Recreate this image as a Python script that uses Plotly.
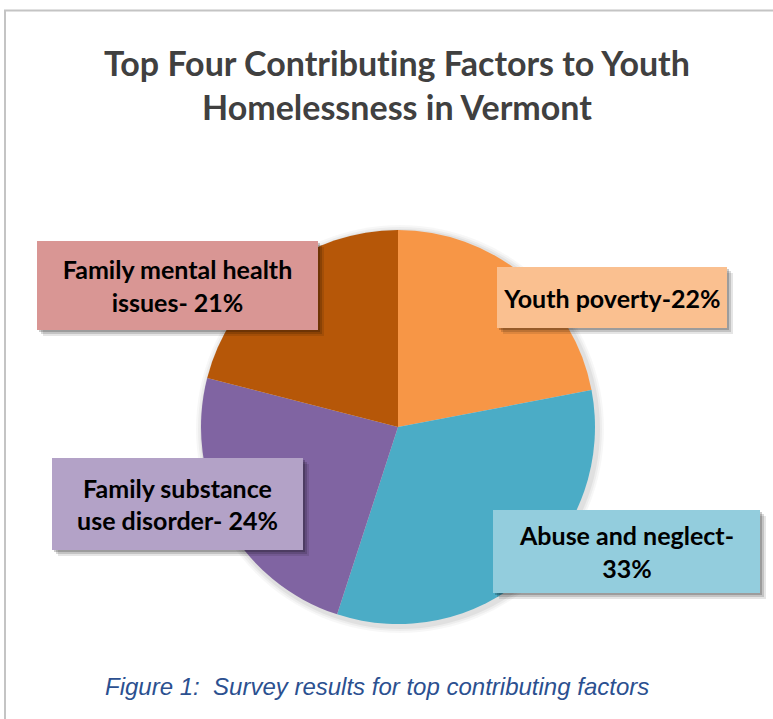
import plotly.graph_objects as go

W, H = 773, 719

categories = ["Youth poverty", "Abuse and neglect", "Family substance use disorder", "Family mental health issues"]
values = [22, 33, 24, 21]
slice_colors = ["#F79646", "#4BACC6", "#8064A2", "#B65708"]
box_colors = ["#FAC090", "#93CDDD", "#B3A2C7", "#D99694"]
box_texts = ["Youth poverty-22%", "Abuse and neglect-<br>33%",
             "Family substance<br>use disorder- 24%", "Family mental health<br>issues- 21%"]
# box geometry in pixels: (x0, y0, x1, y1) from top-left
boxes = [(497, 267, 727, 328), (493, 510, 760, 593), (52, 458, 303, 550), (37, 241, 318, 330)]

cx, cy, r = 398, 427, 197

def px(x):
    return x / W

def py(y):
    return 1 - y / H

fig = go.Figure()
fig.add_trace(go.Pie(
    labels=categories, values=values, sort=False, direction="clockwise", rotation=0,
    marker=dict(colors=slice_colors, line=dict(width=0)),
    textinfo="none", hoverinfo="label+percent", showlegend=False,
    domain=dict(x=[px(cx - r), px(cx + r)], y=[py(cy + r), py(cy - r)]),
))

shapes = []
# soft shadow around pie
for d, a in [(7, 0.03), (5, 0.04), (3, 0.05)]:
    shapes.append(dict(type="circle", xref="paper", yref="paper", layer="below",
                       x0=px(cx - r - d + 2), x1=px(cx + r + d + 2),
                       y0=py(cy + r + d + 2), y1=py(cy - r - d + 2),
                       fillcolor=f"rgba(0,0,0,{a})", line=dict(width=0)))
# frame
shapes.append(dict(type="rect", xref="paper", yref="paper", layer="below",
                   x0=px(5), x1=px(W + 10), y0=py(H + 10), y1=py(10.5),
                   line=dict(color="#c4c4c4", width=2), fillcolor="rgba(0,0,0,0)"))

annotations = []
for (x0, y0, x1, y1), col, txt in zip(boxes, box_colors, box_texts):
    # drop shadow
    for d, a in [(6, 0.10), (4, 0.15), (2, 0.2)]:
        shapes.append(dict(type="rect", xref="paper", yref="paper", layer="above",
                           x0=px(x0 + d), x1=px(x1 + d), y0=py(y1 + d), y1=py(y0 + d),
                           fillcolor=f"rgba(0,0,0,{a})", line=dict(width=0)))
    annotations.append(dict(
        xref="paper", yref="paper", x=px((x0 + x1) / 2), y=py((y0 + y1) / 2),
        xanchor="center", yanchor="middle", showarrow=False,
        width=x1 - x0, height=y1 - y0, bgcolor=col, borderpad=0, borderwidth=0,
        text=f"<b>{txt}</b>", align="center",
        font=dict(family="Lato", size=25, color="#000000"),
    ))

annotations.append(dict(
    xref="paper", yref="paper", x=px(397), y=py(84), xanchor="center", yanchor="middle",
    showarrow=False, align="center",
    text="<b>Top Four Contribut\u200cing Factors to Youth<br>Homelessness in Vermont</b>",
    font=dict(family="Lato", size=34, color="#404040"),
))
annotations.append(dict(
    xref="paper", yref="paper", x=px(103), y=py(686), xanchor="left", yanchor="middle",
    showarrow=False,
    text="<i>Figure 1:  Survey results for top contributing factors</i>",
    font=dict(family="Liberation Sans", size=24, color="#2B5090"),
))

fig.update_layout(
    width=W, height=H, margin=dict(l=0, r=0, t=0, b=0),
    paper_bgcolor="white", plot_bgcolor="white",
    shapes=shapes, annotations=annotations,
)
fig.write_html("out.html")
